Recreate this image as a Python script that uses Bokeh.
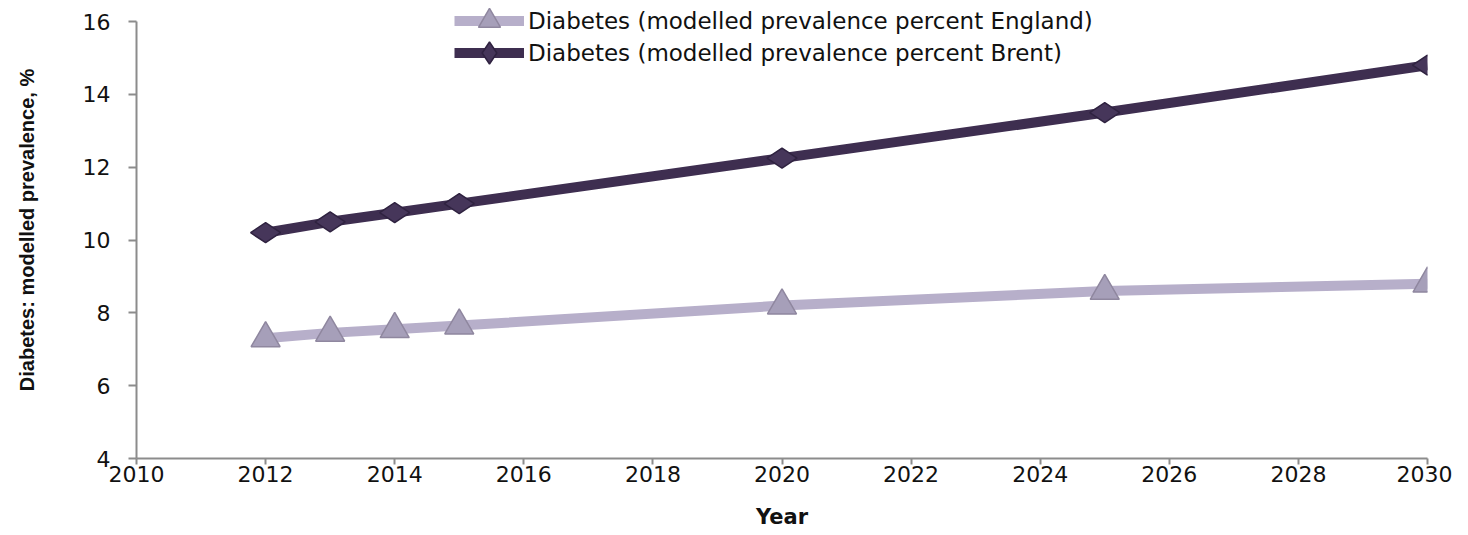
import math
from bokeh.plotting import figure
from bokeh.models import Legend, LegendItem, Range1d, FixedTicker
from bokeh.embed import file_html
from bokeh.resources import INLINE

years = [2012, 2013, 2014, 2015, 2020, 2025, 2030]
england = [7.3, 7.45, 7.55, 7.65, 8.2, 8.6, 8.8]
brent = [10.2, 10.5, 10.75, 11.0, 12.25, 13.5, 14.8]
x_ticks = [2010, 2012, 2014, 2016, 2018, 2020, 2022, 2024, 2026, 2028, 2030]
y_ticks = [4, 6, 8, 10, 12, 14, 16]

label_england = "Diabetes (modelled prevalence percent England)"
label_brent = "Diabetes (modelled prevalence percent Brent)"

FONT = "DejaVu Sans"

p = figure(width=1452, height=535, output_backend="svg", toolbar_location=None,
           x_range=Range1d(2010, 2030), y_range=Range1d(4, 16.55),
           min_border_left=136, min_border_right=25, min_border_top=1, min_border_bottom=77)
p.outline_line_color = None
p.xgrid.visible = False
p.ygrid.visible = False

eng_line = p.line(years, england, line_color="#b7afca", line_width=10)
eng_mark = p.scatter(years, england, marker="triangle", size=29,
                     fill_color="#a69fb9", line_color="#8f879f", line_width=1.5)
br_line = p.line(years, brent, line_color="#3e2e50", line_width=10)
br_mark = p.scatter(years, brent, marker="diamond", size=30, angle=math.pi / 2,
                    fill_color="#46365a", line_color="#2f2240", line_width=1.5)

for ax in (p.xaxis[0], p.yaxis[0]):
    ax.axis_line_color = "#8c8c8c"
    ax.axis_line_width = 2
    ax.major_tick_line_color = "#8c8c8c"
    ax.major_tick_line_width = 2
    ax.major_tick_in = 0
    ax.minor_tick_line_color = None
    ax.major_label_text_font = FONT
    ax.major_label_text_font_size = "22px"
    ax.major_label_text_color = "#111111"
    ax.axis_label_text_font_style = "bold"
    ax.axis_label_text_color = "#111111"

p.yaxis.bounds = (4, 16)
p.yaxis.major_tick_out = 8
p.xaxis.major_tick_out = 6
p.xaxis.ticker = FixedTicker(ticks=x_ticks)
p.yaxis.ticker = FixedTicker(ticks=y_ticks)
p.xaxis.axis_label = "Year"
p.xaxis.axis_label_text_font = FONT
p.xaxis.axis_label_text_font_size = "21px"
p.xaxis.axis_label_standoff = 20
p.xaxis.major_label_standoff = 1
p.yaxis.axis_label = "Diabetes: modelled prevalence, %"
p.yaxis.axis_label_text_font = "Liberation Sans"
p.yaxis.axis_label_text_font_size = "20px"
p.yaxis.axis_label_standoff = 42
p.yaxis.major_label_standoff = 18


def make_legend(label, renderers, loc):
    lg = Legend(items=[LegendItem(label=label, renderers=renderers)], location=loc)
    lg.background_fill_alpha = 0
    lg.border_line_color = None
    lg.label_text_font = FONT
    lg.label_text_font_size = "23px"
    lg.label_text_color = "#111111"
    lg.label_height = 28
    lg.glyph_width = 70
    lg.glyph_height = 55
    lg.spacing = 0
    lg.padding = 0
    lg.margin = 0
    lg.label_standoff = 4
    return lg


p.add_layout(make_legend(label_england, [eng_line, eng_mark], (318, 410)), "center")
p.add_layout(make_legend(label_brent, [br_line, br_mark], (318, 378)), "center")

open("out.html", "w").write(file_html(p, INLINE))
